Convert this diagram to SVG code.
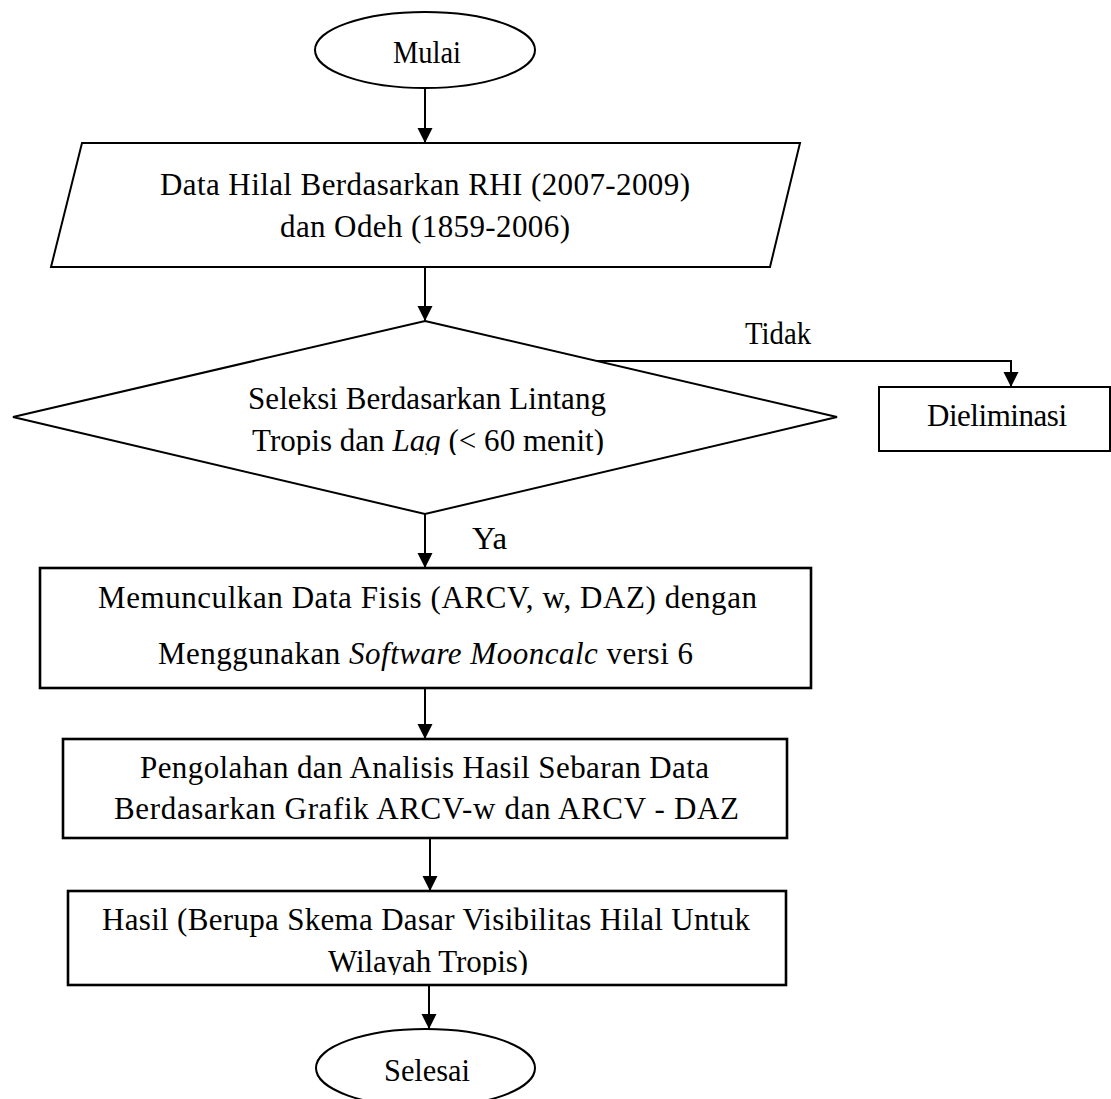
<svg xmlns="http://www.w3.org/2000/svg" width="1111" height="1099" viewBox="0 0 1111 1099">
  <style>
    .shape { fill: #fff; stroke: #000; stroke-width: 2; }
    .thick { stroke-width: 2.6; }
    .conn { fill: none; stroke: #000; stroke-width: 2; }
    text { font-family: "Liberation Serif", "Times New Roman", serif; font-size: 31px; fill: #000; }
    .i { font-style: italic; }
  </style>
  <defs>
    <marker id="arr" markerUnits="userSpaceOnUse" markerWidth="16" markerHeight="16" refX="15" refY="7.5" orient="auto">
      <path d="M0,0 L15,7.5 L0,15 z" fill="#000"/>
    </marker>
    <clipPath id="clipDiamond"><rect x="0" y="380" width="1111" height="75"/></clipPath>
    <clipPath id="clipBox3"><rect x="0" y="900" width="1111" height="75"/></clipPath>
  </defs>
  <rect width="1111" height="1099" fill="#fff"/>

  <g id="connectors">
    <line class="conn" x1="425" y1="88" x2="425" y2="143" marker-end="url(#arr)"/>
    <line class="conn" x1="425" y1="267" x2="425" y2="321" marker-end="url(#arr)"/>
    <line class="conn" x1="425" y1="514" x2="425" y2="568" marker-end="url(#arr)"/>
    <polyline class="conn" points="588,361 1011,361 1011,387" marker-end="url(#arr)"/>
    <line class="conn" x1="425" y1="688" x2="425" y2="739" marker-end="url(#arr)"/>
    <line class="conn" x1="430" y1="838" x2="430" y2="891" marker-end="url(#arr)"/>
    <line class="conn" x1="429" y1="985" x2="429" y2="1029" marker-end="url(#arr)"/>
    <text x="745" y="344" textLength="66" lengthAdjust="spacingAndGlyphs">Tidak</text>
    <text x="472" y="549" textLength="35" lengthAdjust="spacingAndGlyphs">Ya</text>
  </g>

  <g id="mulai">
    <ellipse class="shape" cx="425" cy="50" rx="110" ry="38"/>
    <text x="393" y="63" textLength="68" lengthAdjust="spacingAndGlyphs">Mulai</text>
  </g>

  <g id="data">
    <polygon class="shape" points="82,143 800,143 770,267 51,267"/>
    <text x="160" y="195" textLength="530" lengthAdjust="spacing">Data Hilal Berdasarkan RHI (2007-2009)</text>
    <text x="280" y="237" textLength="290" lengthAdjust="spacing">dan Odeh (1859-2006)</text>
  </g>

  <g id="seleksi">
    <polygon class="shape" points="425,321 837,417 425,514 13,417"/>
    <text x="248" y="409" textLength="358" lengthAdjust="spacing">Seleksi Berdasarkan Lintang</text>
    <text x="252" y="451" textLength="352" lengthAdjust="spacing" clip-path="url(#clipDiamond)">Tropis dan <tspan class="i">Lag</tspan> (&lt; 60 menit)</text>
  </g>

  <g id="dieliminasi">
    <rect class="shape" x="879" y="387" width="231" height="64"/>
    <text x="927" y="426" textLength="140" lengthAdjust="spacing">Dieliminasi</text>
  </g>

  <g id="memunculkan">
    <rect class="shape thick" x="40" y="568" width="771" height="120"/>
    <text x="98" y="608" textLength="659" lengthAdjust="spacing">Memunculkan Data Fisis (ARCV, w, DAZ) dengan</text>
    <text x="158" y="664" textLength="535" lengthAdjust="spacing">Menggunakan <tspan class="i">Software Mooncalc</tspan> versi 6</text>
  </g>

  <g id="pengolahan">
    <rect class="shape thick" x="63" y="739" width="724" height="99"/>
    <text x="140" y="778" textLength="569" lengthAdjust="spacing">Pengolahan dan Analisis Hasil Sebaran Data</text>
    <text x="114" y="819" textLength="625" lengthAdjust="spacing">Berdasarkan Grafik ARCV-w dan ARCV - DAZ</text>
  </g>

  <g id="hasil">
    <rect class="shape thick" x="68" y="891" width="718" height="94"/>
    <text x="102" y="930" textLength="648" lengthAdjust="spacing">Hasil (Berupa Skema Dasar Visibilitas Hilal Untuk</text>
    <text x="328" y="972" textLength="200" lengthAdjust="spacing" clip-path="url(#clipBox3)">Wilayah Tropis)</text>
  </g>

  <g id="selesai">
    <ellipse class="shape" cx="425.5" cy="1068" rx="109.5" ry="39"/>
    <text x="384" y="1081" textLength="86" lengthAdjust="spacingAndGlyphs">Selesai</text>
  </g>
</svg>
